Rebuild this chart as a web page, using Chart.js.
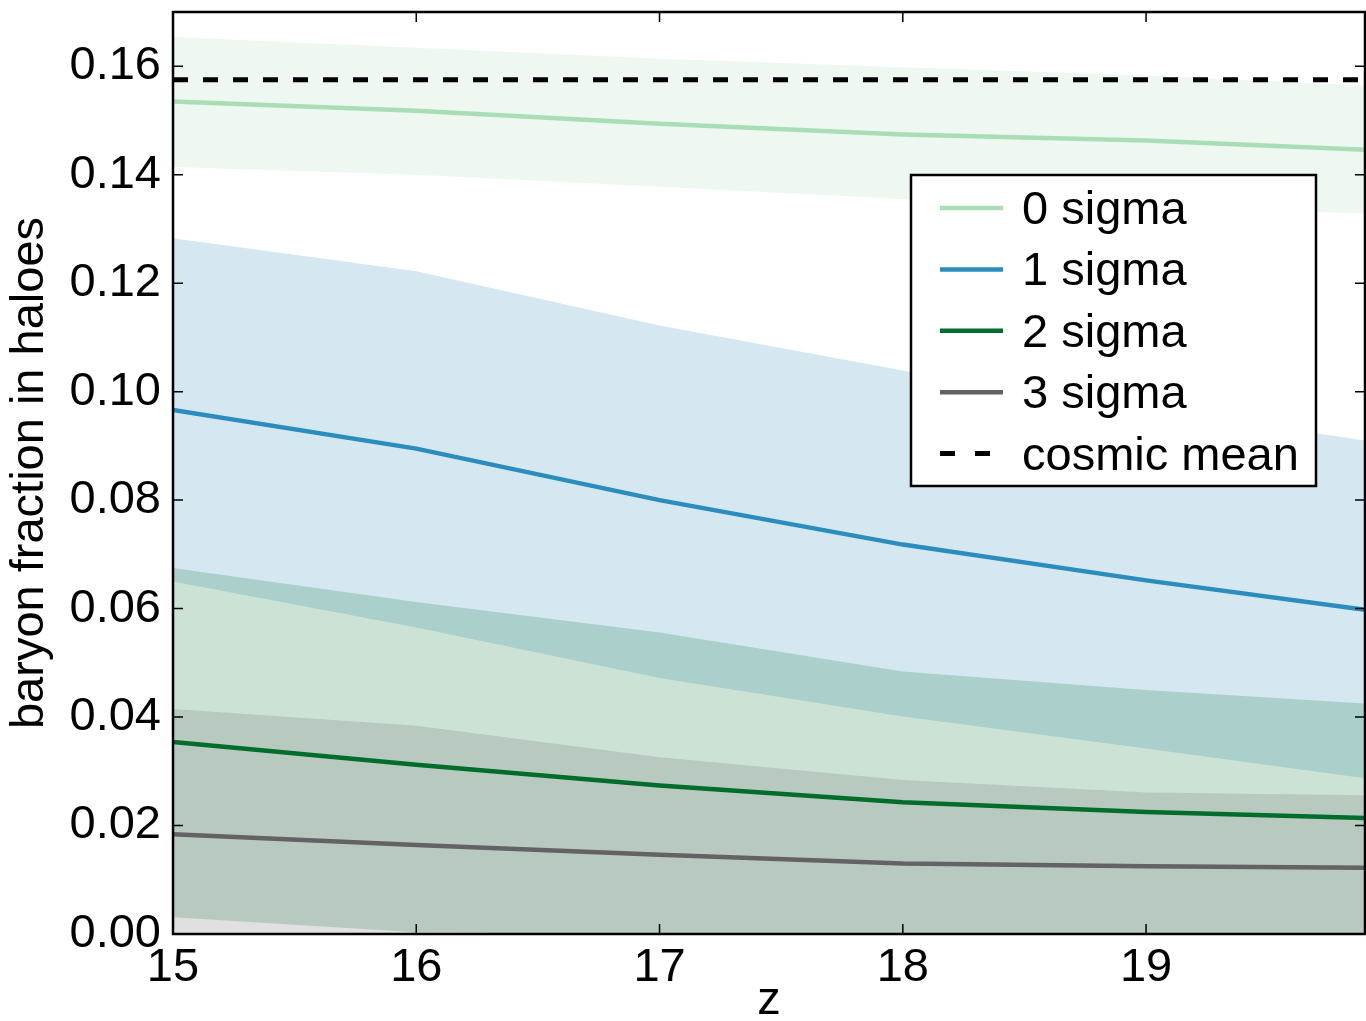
<!DOCTYPE html>
<html>
<head>
<meta charset="utf-8">
<script src="https://cdn.jsdelivr.net/npm/chart.js@4.4.1/dist/chart.umd.min.js"></script>
<style>
  html, body { margin: 0; padding: 0; background: #ffffff; overflow: hidden; }
  canvas { display: block; }
</style>
</head>
<body>
<canvas id="chart" width="1366" height="1021"></canvas>
<script>
// Redshift samples
const redshift = [15, 16, 17, 18, 19, 19.9];

// Median baryon fraction and band edges per sigma peak height
const sigma0Mid = [0.1535, 0.1518, 0.1494, 0.1474, 0.1463, 0.1446];
const sigma0Lo  = [0.1414, 0.1400, 0.1378, 0.1355, 0.1342, 0.1328];
const sigma0Hi  = [0.1654, 0.1634, 0.1614, 0.1598, 0.1583, 0.1564];

const sigma1Mid = [0.0966, 0.0895, 0.0800, 0.0718, 0.0652, 0.0598];
const sigma1Lo  = [0.0650, 0.0565, 0.0472, 0.0401, 0.0342, 0.0287];
const sigma1Hi  = [0.1283, 0.1222, 0.1122, 0.1039, 0.0969, 0.0910];

const sigma2Mid = [0.0354, 0.0312, 0.0274, 0.0243, 0.0225, 0.0214];
const sigma2Lo  = [0.0031, 0.0003, 0.0000, 0.0000, 0.0000, 0.0000];
const sigma2Hi  = [0.0675, 0.0612, 0.0556, 0.0484, 0.0450, 0.0425];

const sigma3Mid = [0.0184, 0.0164, 0.0146, 0.0130, 0.0125, 0.0122];
const sigma3Lo  = [0.0000, 0.0000, 0.0000, 0.0000, 0.0000, 0.0000];
const sigma3Hi  = [0.0415, 0.0384, 0.0326, 0.0284, 0.0261, 0.0256];

const cosmicMean = 0.1575;

const seriesLabels = ['0 sigma', '1 sigma', '2 sigma', '3 sigma'];
const meanLabel = 'cosmic mean';

// Axis tick values
const xTicks = [15, 16, 17, 18, 19];
const yTicks = [0.00, 0.02, 0.04, 0.06, 0.08, 0.10, 0.12, 0.14, 0.16];

const colours = ['#a8ddb5', '#2b8cbe', '#006d2c', '#636363'];
const FONT = '"Liberation Sans", Arial, Helvetica, sans-serif';

function points(values) {
  return values.map((v, i) => ({ x: redshift[i], y: v }));
}
function withAlpha(hex, a) {
  const n = parseInt(hex.slice(1), 16);
  return `rgba(${(n >> 16) & 255}, ${(n >> 8) & 255}, ${n & 255}, ${a})`;
}

const datasets = [];
function addBand(lo, hi, colour, order) {
  const loIndex = datasets.length;
  datasets.push({ data: points(lo), borderWidth: 0, pointRadius: 0, fill: false, order });
  datasets.push({ data: points(hi), borderWidth: 0, pointRadius: 0, fill: loIndex,
                  backgroundColor: withAlpha(colour, 0.2), order });
}
// Bands: 0 sigma at the back, 3 sigma in front
addBand(sigma0Lo, sigma0Hi, colours[0], 20);
addBand(sigma1Lo, sigma1Hi, colours[1], 19);
addBand(sigma2Lo, sigma2Hi, colours[2], 18);
addBand(sigma3Lo, sigma3Hi, colours[3], 17);

const mids = [sigma0Mid, sigma1Mid, sigma2Mid, sigma3Mid];
mids.forEach((m, i) => {
  datasets.push({ label: seriesLabels[i], inLegend: true, data: points(m),
                  borderColor: colours[i], borderWidth: 4.5, pointRadius: 0,
                  fill: false, order: 10 - i });
});
datasets.push({ label: meanLabel, inLegend: true,
                data: [{ x: 15, y: cosmicMean }, { x: 19.9, y: cosmicMean }],
                borderColor: '#000000', borderWidth: 5, borderDash: [15, 15],
                legendDash: [15, 20], pointRadius: 0, fill: false, order: 1 });

// Frame with inward ticks on all four sides
const framePlugin = {
  id: 'frame',
  afterDatasetsDraw(chart) {
    const { ctx, chartArea: a, scales } = chart;
    ctx.save();
    ctx.strokeStyle = '#000';
    ctx.lineWidth = 1.5;
    const len = 10;
    ctx.beginPath();
    scales.x.ticks.forEach(t => {
      const px = scales.x.getPixelForValue(t.value);
      ctx.moveTo(px, a.bottom); ctx.lineTo(px, a.bottom - len);
      ctx.moveTo(px, a.top); ctx.lineTo(px, a.top + len);
    });
    scales.y.ticks.forEach(t => {
      const py = scales.y.getPixelForValue(t.value);
      ctx.moveTo(a.left, py); ctx.lineTo(a.left + len, py);
      ctx.moveTo(a.right, py); ctx.lineTo(a.right - len, py);
    });
    ctx.stroke();
    ctx.lineWidth = 2.5;
    ctx.strokeRect(a.left, a.top, a.right - a.left, a.bottom - a.top);
    ctx.restore();
  }
};

// Legend box in the upper right of the plot
const legendPlugin = {
  id: 'boxLegend',
  afterDraw(chart) {
    const { ctx, chartArea: a } = chart;
    const items = chart.data.datasets.filter(d => d.inLegend);
    const boxRight = a.right - 49, boxLeft = boxRight - 405;
    const boxTop = a.top + 163, rowGap = 61.4, boxH = 311;
    ctx.save();
    ctx.fillStyle = '#ffffff';
    ctx.fillRect(boxLeft, boxTop, boxRight - boxLeft, boxH);
    ctx.lineWidth = 2.5;
    ctx.strokeStyle = '#000';
    ctx.strokeRect(boxLeft, boxTop, boxRight - boxLeft, boxH);
    ctx.font = `47px ${FONT}`;
    ctx.textBaseline = 'alphabetic';
    ctx.textAlign = 'left';
    items.forEach((d, i) => {
      const y = boxTop + 33 + i * rowGap;
      ctx.beginPath();
      ctx.strokeStyle = d.borderColor;
      ctx.lineWidth = d.borderWidth;
      ctx.setLineDash(d.legendDash || []);
      ctx.moveTo(boxLeft + 29, y);
      ctx.lineTo(boxLeft + 92, y);
      ctx.stroke();
      ctx.setLineDash([]);
      ctx.fillStyle = '#000';
      ctx.fillText(d.label, boxLeft + 111, y + 16);
    });
    ctx.restore();
  }
};

new Chart(document.getElementById('chart'), {
  type: 'line',
  data: { datasets },
  options: {
    responsive: false,
    animation: false,
    events: [],
    layout: { padding: { top: 12, right: 1, left: 0, bottom: 0 } },
    elements: { line: { tension: 0 } },
    plugins: {
      legend: { display: false },
      tooltip: { enabled: false },
      filler: { propagate: false }
    },
    scales: {
      x: {
        type: 'linear', min: 15, max: 19.9,
        grid: { display: false, drawTicks: false },
        border: { display: false },
        afterBuildTicks: s => { s.ticks = xTicks.map(v => ({ value: v })); },
        afterFit: s => { s.height = 87; s.paddingLeft = 0; s.paddingRight = 0; },
        ticks: { color: '#000', padding: 6, maxRotation: 0,
                 font: { family: FONT, size: 47 },
                 callback: v => String(v) },
        title: { display: true, text: 'z', color: '#000',
                 font: { family: FONT, size: 47, lineHeight: 0.86 },
                 padding: { top: 0, bottom: 0 } }
      },
      y: {
        type: 'linear', min: 0, max: 0.17,
        grid: { display: false, drawTicks: false },
        border: { display: false },
        afterBuildTicks: s => { s.ticks = yTicks.map(v => ({ value: v })); },
        afterFit: s => { s.width = 173; s.paddingTop = 0; s.paddingBottom = 0; },
        ticks: { color: '#000', padding: 12,
                 font: { family: FONT, size: 47 },
                 callback: v => v.toFixed(2) },
        title: { display: true, text: 'baryon fraction in haloes', color: '#000',
                 font: { family: FONT, size: 47 },
                 padding: { top: 2, bottom: 0 } }
      }
    }
  },
  plugins: [framePlugin, legendPlugin]
});
</script>
</body>
</html>
